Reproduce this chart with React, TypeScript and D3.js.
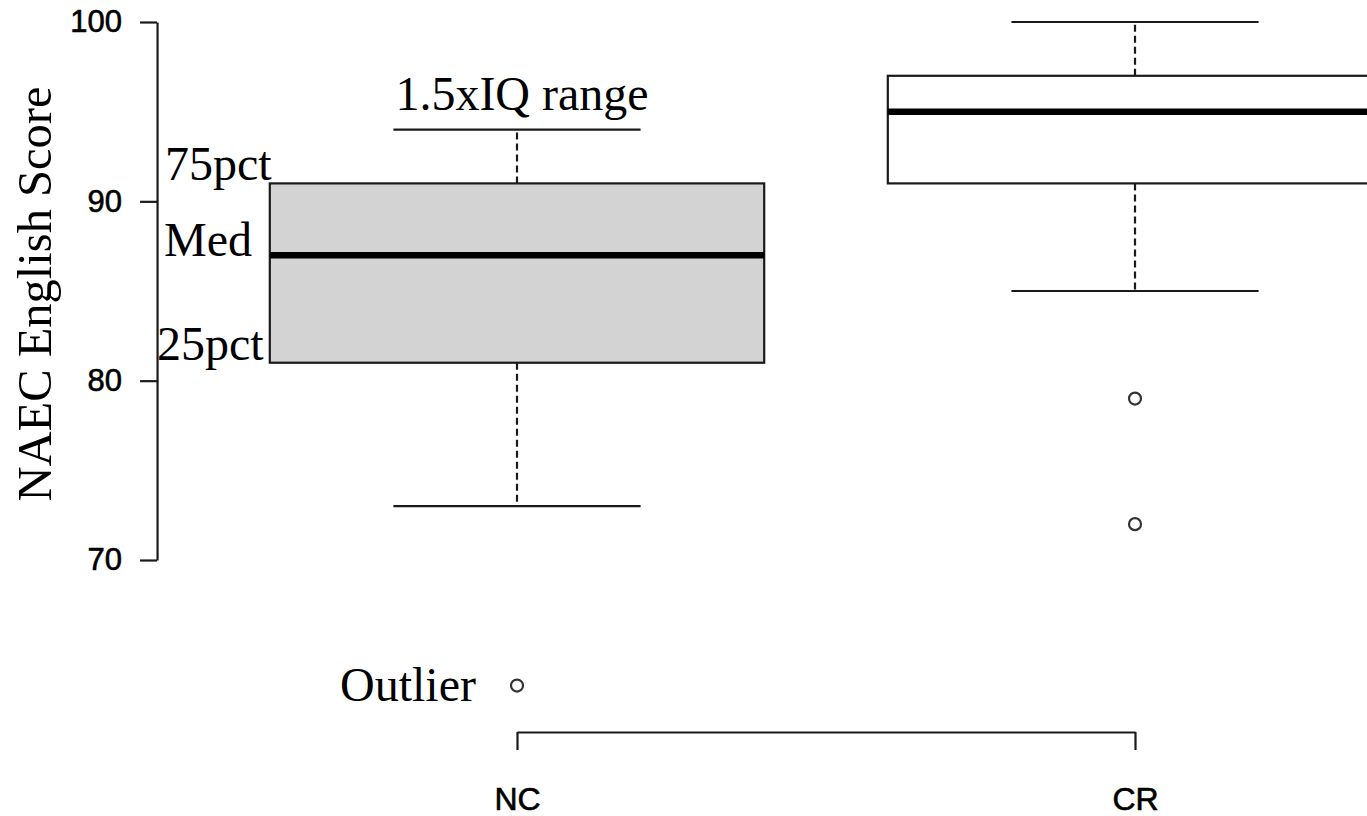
import React, { useEffect, useRef } from 'react';
import * as d3 from 'd3';

// box plot stats
const groups = ['NC', 'CR'];
const whiskerLow = [73, 85];
const q1 = [81, 91];
const medians = [87, 95];
const q3 = [91, 97];
const whiskerHigh = [94, 100];
const outliers = [[63], [79, 72]];
const boxFills = ['#d3d3d3', '#ffffff'];
const yTicks = [70, 80, 90, 100];
const yLabel = 'NAEC English Score';

const W = 1367;
const H = 816;
const SERIF = '"Liberation Serif", "Times New Roman", serif';
const SANS = '"Liberation Sans", Arial, Helvetica, sans-serif';

const App: React.FC = () => {
  const svgRef = useRef<SVGSVGElement>(null);

  useEffect(() => {
    if (!svgRef.current) return;
    const svg = d3.select(svgRef.current);
    svg.selectAll('*').remove();

    const x = d3.scaleLinear().domain([1, 2]).range([517, 1135]);
    const y = d3.scaleLinear().domain([70, 100]).range([560, 22]);
    const boxHalf = 0.4;
    const capHalf = 0.2;
    const axisX = x(0.42) - 1.5;
    const ink = '#1a1a1a';
    const lw = 2.2;

    // y axis
    const yAxis = svg.append('g')
      .attr('transform', `translate(${axisX},0)`)
      .call(d3.axisLeft(y).tickValues(yTicks).tickSize(17).tickSizeOuter(0).tickPadding(18));
    yAxis.attr('font-family', SANS).attr('font-size', 31);
    yAxis.selectAll('path, line').attr('stroke', ink).attr('stroke-width', lw);
    yAxis.selectAll('text').attr('fill', '#000').attr('stroke', '#000').attr('stroke-width', 0.6);

    // x axis bracket
    const xAxis = svg.append('g')
      .attr('transform', 'translate(0,732)')
      .call(d3.axisBottom(x).tickValues([1, 2]).tickFormat((_, i) => groups[i]).tickSize(18).tickSizeOuter(0).tickPadding(37));
    xAxis.attr('font-family', SANS).attr('font-size', 32);
    xAxis.selectAll('path, line').attr('stroke', ink).attr('stroke-width', lw);
    xAxis.selectAll('text').attr('fill', '#000').attr('stroke', '#000').attr('stroke-width', 0.6);

    groups.forEach((_, i) => {
      const cx = x(i + 1);
      const g = svg.append('g');

      // whiskers
      [[q3[i], whiskerHigh[i]], [q1[i], whiskerLow[i]]].forEach(([a, b]) => {
        g.append('line')
          .attr('x1', cx).attr('x2', cx)
          .attr('y1', y(a)).attr('y2', y(b))
          .attr('stroke', ink).attr('stroke-width', lw)
          .attr('stroke-dasharray', '7,4');
        g.append('line')
          .attr('x1', x(i + 1 - capHalf)).attr('x2', x(i + 1 + capHalf))
          .attr('y1', y(b)).attr('y2', y(b))
          .attr('stroke', ink).attr('stroke-width', lw);
      });

      // box
      g.append('rect')
        .attr('x', x(i + 1 - boxHalf))
        .attr('y', y(q3[i]))
        .attr('width', x(i + 1 + boxHalf) - x(i + 1 - boxHalf))
        .attr('height', y(q1[i]) - y(q3[i]))
        .attr('fill', boxFills[i])
        .attr('stroke', ink).attr('stroke-width', lw);

      // median
      g.append('line')
        .attr('x1', x(i + 1 - boxHalf)).attr('x2', x(i + 1 + boxHalf))
        .attr('y1', y(medians[i])).attr('y2', y(medians[i]))
        .attr('stroke', '#000').attr('stroke-width', 6.5);

      // outliers
      outliers[i].forEach(v => {
        g.append('circle')
          .attr('cx', cx).attr('cy', y(v)).attr('r', 6)
          .attr('fill', 'none').attr('stroke', '#333').attr('stroke-width', 2.2);
      });
    });

    // y label
    svg.append('text')
      .attr('transform', 'translate(51,294) rotate(-90)')
      .attr('text-anchor', 'middle')
      .attr('font-family', SERIF).attr('font-size', 48.5)
      .text(yLabel);

    // annotations on the NC box
    const notes = svg.append('g').attr('font-family', SERIF).attr('font-size', 48).attr('fill', '#000');
    notes.append('text').attr('x', 522).attr('y', y(whiskerHigh[0]) - 20).attr('text-anchor', 'middle').text('1.5xIQ range');
    notes.append('text').attr('x', 165).attr('y', y(q3[0]) - 3).text('75pct');
    notes.append('text').attr('x', 164).attr('y', y(medians[0]) + 1).text('Med');
    notes.append('text').attr('x', 157).attr('y', y(q1[0]) - 3).text('25pct');
    notes.append('text').attr('x', 340).attr('y', y(outliers[0][0]) + 15).text('Outlier');
  }, []);

  return (
    <div style={{ position: 'absolute', left: 0, top: 0, width: W, height: H, background: '#fff' }}>
      <svg ref={svgRef} width={W} height={H}></svg>
    </div>
  );
};

export default App;
